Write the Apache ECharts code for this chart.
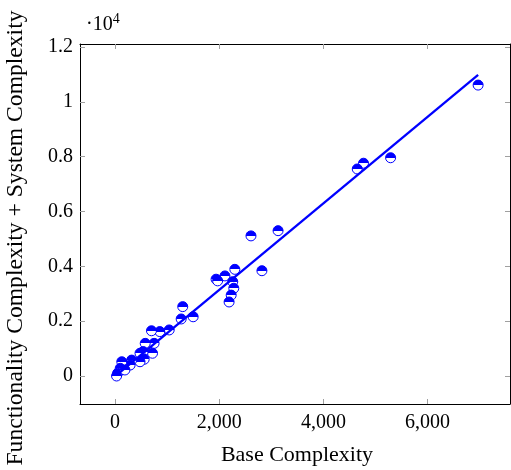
<!DOCTYPE html>
<html>
<head>
<meta charset="utf-8">
<script src="https://cdn.jsdelivr.net/npm/echarts@6/dist/echarts.min.js"></script>
<style>
  html, body { margin: 0; padding: 0; background: #fff; }
  #main { width: 511px; height: 470px; }
</style>
</head>
<body>
<div id="main"></div>
<script>
// base complexity (x) and functionality + system complexity (y)
var baseX = [6970, 5290, 4770, 4650, 3130, 2610, 2820, 2300, 2110, 1940, 1970, 2260,
             2280, 2230, 2190, 1300, 1270, 1500, 1040, 860, 700, 750, 580, 720,
             540, 480, 560, 480, 320, 290, 130, 100, 50, 30, 190];
var totalY = [10610, 7960, 7760, 7550, 5300, 5110, 3840, 3890, 3650, 3530, 3470, 3440,
              3200, 2950, 2700, 2530, 2080, 2160, 1680, 1620, 1650, 1190, 1190, 830,
              890, 830, 610, 520, 580, 400, 520, 280, 100, 0, 220];
// regression line end points
var fitX = [30, 6970];
var fitY = [30, 10980];

var xTicks = [0, 2000, 4000, 6000];
var yTicks = [0, 2000, 4000, 6000, 8000, 10000, 12000];

var points = [];
for (var i = 0; i < baseX.length; i++) {
    points.push([baseX[i], totalY[i]]);
}
var fitLine = [];
for (var j = 0; j < fitX.length; j++) {
    fitLine.push([fitX[j], fitY[j]]);
}

var font = 'Liberation Serif';
var tickGray = '#a0a0a0';

var myChart = echarts.init(document.getElementById('main'));

// half filled marker: blue on top, white below
var halfFill = new echarts.graphic.LinearGradient(0, 0, 0, 1, [
    {offset: 0, color: '#0000ff'},
    {offset: 0.5, color: '#0000ff'},
    {offset: 0.5, color: '#ffffff'},
    {offset: 1, color: '#ffffff'}
]);

function xAxisOf(pos, showLabels) {
    return {
        type: 'value',
        position: pos,
        min: -672,
        max: 7582,
        splitLine: {show: false},
        axisLine: {show: true, onZero: false, lineStyle: {color: '#000', width: 1}},
        axisTick: {show: true, inside: true, length: 5, customValues: xTicks,
                   lineStyle: {color: tickGray}},
        axisLabel: {show: showLabels, customValues: xTicks, margin: 9,
                    fontFamily: font, fontSize: 20, color: '#000',
                    formatter: function (v) { return v.toLocaleString('en-US'); }},
        name: showLabels ? 'Base Complexity' : '',
        nameLocation: 'middle',
        nameGap: 40,
        nameTextStyle: {fontFamily: font, fontSize: 22, color: '#000', padding: [0, 0, 0, 4]}
    };
}

function yAxisOf(pos, showLabels) {
    return {
        type: 'value',
        position: pos,
        min: -1021,
        max: 12108,
        splitLine: {show: false},
        axisLine: {show: true, onZero: false, lineStyle: {color: '#000', width: 1}},
        axisTick: {show: true, inside: true, length: 5, customValues: yTicks,
                   lineStyle: {color: tickGray}},
        axisLabel: {show: showLabels, customValues: yTicks, margin: 7,
                    fontFamily: font, fontSize: 20, color: '#000',
                    formatter: function (v) { return String(v / 10000); }},
        name: showLabels ? 'Functionality Complexity + System Complexity' : '',
        nameLocation: 'middle',
        nameRotate: 90,
        nameGap: 52,
        nameTextStyle: {fontFamily: font, fontSize: 23.6, color: '#000', padding: [0, 28, 0, 0]}
    };
}

var option = {
    animation: false,
    backgroundColor: '#fff',
    grid: {left: 80, right: 1, top: 44, bottom: 66, outerBoundsMode: 'none'},
    xAxis: [xAxisOf('bottom', true), xAxisOf('top', false)],
    yAxis: [yAxisOf('left', true), yAxisOf('right', false)],
    graphic: [{
        type: 'text',
        left: 86,
        top: 12,
        style: {
            text: '·10{sup|4}',
            font: '20px "Liberation Serif"',
            fill: '#000',
            rich: {
                sup: {fontFamily: font, fontSize: 14, verticalAlign: 'top', padding: [0, 0, 12, 0]}
            }
        }
    }],
    series: [
        {
            name: 'data',
            type: 'scatter',
            data: points,
            symbol: 'circle',
            symbolSize: 10,
            itemStyle: {color: halfFill, borderColor: '#0000ff', borderWidth: 1, opacity: 1},
            z: 2
        },
        {
            name: 'fit',
            type: 'line',
            data: fitLine,
            showSymbol: false,
            symbol: 'none',
            lineStyle: {color: '#0000ff', width: 2.3},
            z: 3
        }
    ]
};
myChart.setOption(option);
</script>
</body>
</html>
